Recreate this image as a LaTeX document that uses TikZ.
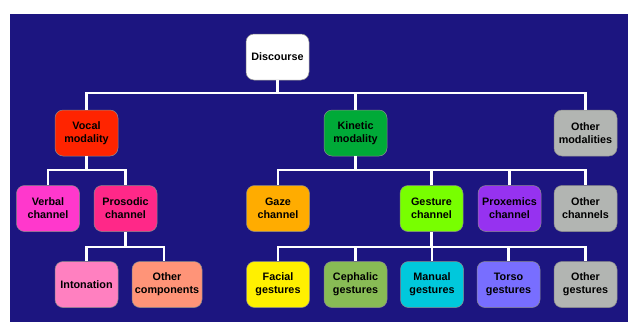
\documentclass[tikz,border=0pt]{standalone}
\usepackage{fontspec}
\setmainfont{Liberation Sans}
\usetikzlibrary{positioning}
\definecolor{bg}{RGB}{28,21,128}
\definecolor{cVocal}{RGB}{255,36,0}
\definecolor{cKin}{RGB}{0,170,56}
\definecolor{cGrey}{RGB}{178,181,178}
\definecolor{cVerbal}{RGB}{255,56,204}
\definecolor{cPros}{RGB}{255,40,136}
\definecolor{cGaze}{RGB}{255,172,0}
\definecolor{cGest}{RGB}{120,255,0}
\definecolor{cProx}{RGB}{150,50,240}
\definecolor{cInton}{RGB}{255,128,192}
\definecolor{cOthComp}{RGB}{255,148,120}
\definecolor{cFacial}{RGB}{255,240,0}
\definecolor{cCeph}{RGB}{136,187,85}
\definecolor{cManual}{RGB}{0,200,220}
\definecolor{cTorso}{RGB}{120,110,255}
\begin{document}
\begin{tikzpicture}[x=1pt,y=-1pt,
  box/.style={rectangle, rounded corners=8pt, draw=black!45, line width=0.5pt,
    minimum width=63pt, minimum height=46pt, inner sep=1pt, align=center,
    font=\bfseries\fontsize{10.8}{13}\selectfont, text=black},
  conn/.style={draw=white, line width=2.6pt}]
\useasboundingbox (0,0) rectangle (629,322);
\fill[bg] (10,14) rectangle (628,322);
% nodes
\node[box, fill=white] (disc) at (277.5,57) {Discourse};
\node[box, fill=cVocal] (vocal) at (86.5,133) {Vocal\\modality};
\node[box, fill=cKin] (kin) at (355.5,133) {Kinetic\\modality};
\node[box, fill=cGrey] (othmod) at (585.5,133) {Other\\modalities};
\node[box, fill=cVerbal] (verbal) at (48,208.5) {Verbal\\channel};
\node[box, fill=cPros] (pros) at (125.5,208.5) {Prosodic\\channel};
\node[box, fill=cGaze] (gaze) at (278,208.5) {Gaze\\channel};
\node[box, fill=cGest] (gest) at (431.5,208.5) {Gesture\\channel};
\node[box, fill=cProx] (prox) at (509.5,208.5) {Proxemics\\channel};
\node[box, fill=cGrey] (othch) at (585.5,208.5) {Other\\channels};
\node[box, fill=cInton] (inton) at (86.5,284.5) {Intonation};
\node[box, fill=cOthComp, minimum width=70pt] (othcomp) at (167,284.5) {Other\\components};
\node[box, fill=cFacial] (facial) at (278,284.5) {Facial\\gestures};
\node[box, fill=cCeph] (ceph) at (355.5,284.5) {Cephalic\\gestures};
\node[box, fill=cManual] (manual) at (432,284.5) {Manual\\gestures};
\node[box, fill=cTorso] (torso) at (508.5,284.5) {Torso\\gestures};
\node[box, fill=cGrey] (othgest) at (585.5,284.5) {Other\\gestures};
% connectors level 1
\coordinate (b1) at (disc.south |- 0,93);
\draw[conn] (disc.south) -- (b1);
\draw[conn] (vocal.north) |- (b1) -| (othmod.north);
\draw[conn] (kin.north) -- (kin.north |- 0,93);
% level 2 vocal
\coordinate (b2) at (vocal.south |- 0,170);
\draw[conn] (vocal.south) -- (b2);
\draw[conn] (verbal.north) |- (b2) -| (pros.north);
% level 2 kinetic
\coordinate (b3) at (kin.south |- 0,170);
\draw[conn] (kin.south) -- (b3);
\draw[conn] (gaze.north) |- (b3) -| (othch.north);
\draw[conn] (gest.north) -- (gest.north |- 0,170);
\draw[conn] (prox.north) -- (prox.north |- 0,170);
% level 3 prosodic
\coordinate (b4) at (pros.south |- 0,247);
\draw[conn] (pros.south) -- (b4);
\draw[conn] (inton.north) |- (b4) -| ([xshift=-3pt]othcomp.north);
% level 3 gesture
\coordinate (b5) at (gest.south |- 0,247);
\draw[conn] (gest.south) -- (b5);
\draw[conn] (facial.north) |- (b5) -| (othgest.north);
\draw[conn] (ceph.north) -- (ceph.north |- 0,247);
\draw[conn] (manual.north) -- (manual.north |- 0,247);
\draw[conn] (torso.north) -- (torso.north |- 0,247);
\end{tikzpicture}
\end{document}
